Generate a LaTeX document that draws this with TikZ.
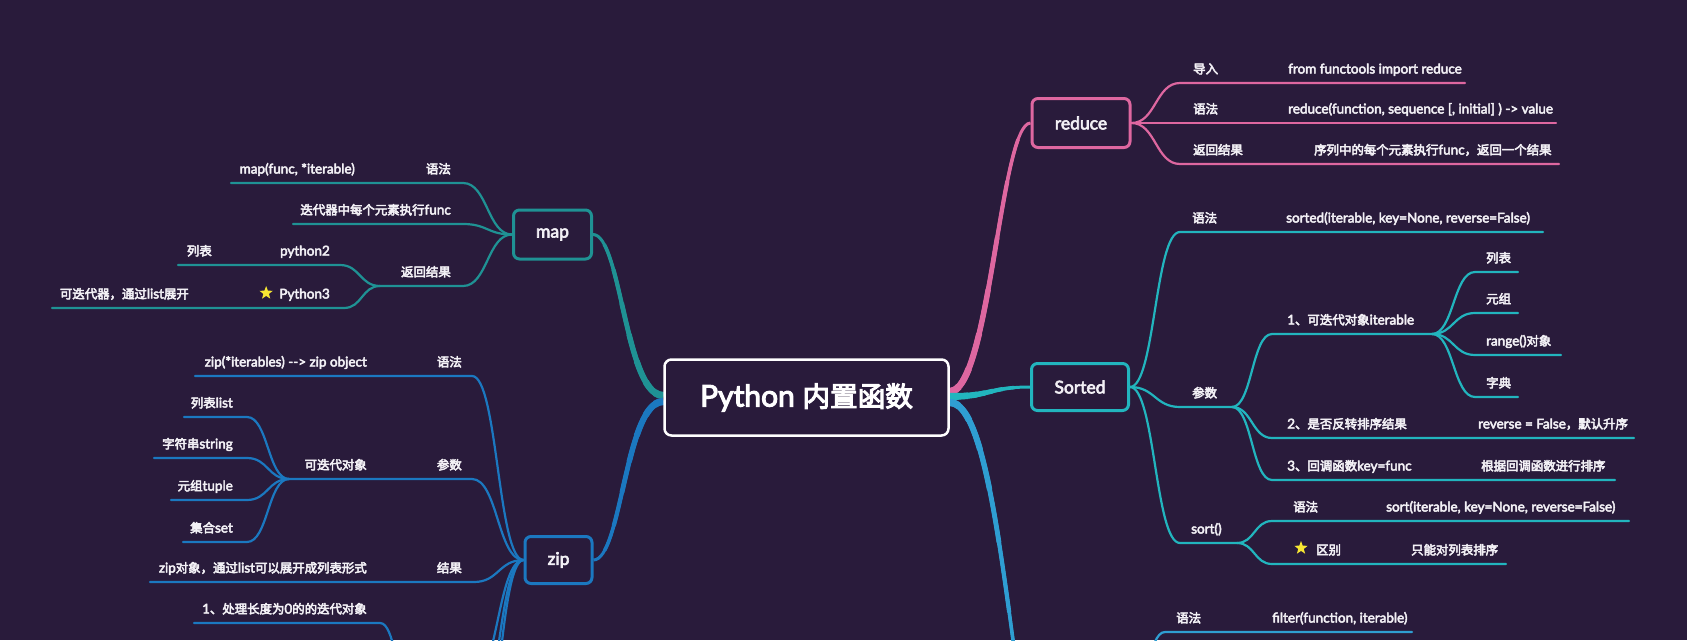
\documentclass[tikz,border=0pt]{standalone}
\usepackage{fontspec}
\setmainfont{Lato}[FakeBold=3.5]
\newfontfamily\cjk{Noto Sans CJK SC}[Scale=0.92,FakeBold=4]
\usetikzlibrary{shapes.geometric,calc,backgrounds}
\definecolor{bg}{HTML}{291B3B}
\definecolor{mapc}{HTML}{1F9294}
\definecolor{zipc}{HTML}{1B78C0}
\definecolor{redc}{HTML}{DE67A0}
\definecolor{sortc}{HTML}{22B5BE}
\definecolor{filc}{HTML}{2F9ED2}
\definecolor{txt}{HTML}{F2F0F5}
\definecolor{staryel}{HTML}{F7E733}
\newcommand\zh[1]{{\cjk #1}}
\newcommand\lsub[6]{%
  \coordinate (#1n) at (#5,#4);
  \coordinate (#1f) at (#6,#4);
  \draw[br,#2] let \p1=(#3), \p2=(#1n), \n1={0.5*(\x1-\x2)} in
    (\p1) .. controls +(-\n1,0) and +(\n1,0) .. (#1n) -- (#1f);}
\newcommand\rsub[6]{%
  \coordinate (#1n) at (#5,#4);
  \coordinate (#1f) at (#6,#4);
  \draw[br,#2] let \p1=(#3), \p2=(#1n), \n1={0.5*(\x2-\x1)} in
    (\p1) .. controls +(\n1,0) and +(-\n1,0) .. (#1n) -- (#1f);}
\newcommand\labL[4]{\node[lbl,anchor=base east] (#1) at (#2,#3-9.5) {#4};}
\newcommand\labR[4]{\node[lbl,anchor=base west] (#1) at (#2,#3-9.5) {#4};}
% tapered main branch: part [0,t] of the Bezier tp0..tp3
\newcommand\taperseg[3]{%
  \coordinate (ta) at ($(tp0)!#1!(tp1)$);
  \coordinate (tb) at ($(tp1)!#1!(tp2)$);
  \coordinate (tc) at ($(tp2)!#1!(tp3)$);
  \coordinate (tab) at ($(ta)!#1!(tb)$);
  \coordinate (tbc) at ($(tb)!#1!(tc)$);
  \coordinate (tabc) at ($(tab)!#1!(tbc)$);
  \draw[#3, line width=#2pt] (tp0) .. controls (ta) and (tab) .. (tabc);}
\newcommand\taper[6]{%
  \coordinate (tp0) at ($(#2)+(#3)$);
  \coordinate (tp3) at (#6);
  \coordinate (tp1) at ($(tp0)+(#4)$);
  \coordinate (tp2) at ($(tp3)+(#5)$);
  \foreach \tt/\ww in {1/3,0.85/3.6,0.7/4.2,0.55/4.8,0.42/5.4,0.3/6,0.18/6.6,0.08/7.2}
    {\taperseg{\tt}{\ww}{#1}}}
\begin{document}
\begin{tikzpicture}[x=1pt,y=-1pt,
  lbl/.style={inner sep=0pt, text=txt, font=\fontsize{13.5}{16}\selectfont},
  topic/.style={draw, line width=3pt, rounded corners=6pt, fill=bg, text=txt,
    font=\fontsize{17.5}{20}\selectfont, inner sep=0pt},
  br/.style={line width=2.2pt, line cap=round},
  yst/.style={star, star points=5, star point ratio=2.4, fill=staryel, inner sep=0pt, minimum size=14pt}
]
\useasboundingbox (0,0) rectangle (1687,640);
% ---- topic boxes
\node[draw=white, line width=2.5pt, rounded corners=7pt, fill=bg, text=white,
  minimum width=284pt, minimum height=76pt, inner sep=0pt,
  font=\fontsize{30}{34}\selectfont] (root) at (806.5,397.5) {Python \zh{内置函数}};
\node[topic, draw=mapc, minimum width=78pt, minimum height=49pt] (map) at (552.5,234.5) {map};
\node[topic, draw=zipc, minimum width=67pt, minimum height=47pt] (zip) at (558.5,560) {zip};
\node[topic, draw=redc, minimum width=98pt, minimum height=49pt] (reduce) at (1081,123) {reduce};
\node[topic, draw=sortc, minimum width=97pt, minimum height=47pt] (sorted) at (1080,387) {Sorted};
% ---- map labels
\labL{m1a}{451}{183}{\zh{语法}}
\labL{m1b}{355}{183}{map(func, *iterable)}
\labL{m2a}{451}{224}{\zh{迭代器中每个元素执行}func}
\labL{m3a}{451}{286}{\zh{返回结果}}
\labL{m31a}{330}{265}{python2}
\labL{m31b}{212}{265}{\zh{列表}}
\labL{m32a}{330}{308}{Python3}
\node[yst] (m32s) at ($(m32a.base west)+(-13,-5.5)$) {};
\labL{m32b}{189}{308}{\zh{可迭代器，通过}list\zh{展开}}
% ---- zip labels
\labL{z1a}{462}{376}{\zh{语法}}
\labL{z1b}{367}{376}{zip(*iterables) -\kern0pt-> zip object}
\labL{z2a}{462}{479}{\zh{参数}}
\labL{z2b}{367}{479}{\zh{可迭代对象}}
\labL{z21a}{233}{417}{\zh{列表}list}
\labL{z22a}{233}{458}{\zh{字符串}string}
\labL{z23a}{233}{500}{\zh{元组}tuple}
\labL{z24a}{233}{542}{\zh{集合}set}
\labL{z3a}{462}{582}{\zh{结果}}
\labL{z3b}{367}{582}{zip\zh{对象，通过}list\zh{可以展开成列表形式}}
\labL{z41a}{367}{623}{1\zh{、处理长度为}0\zh{的的迭代对象}}
% ---- reduce labels
\labR{r1a}{1193}{83}{\zh{导入}}
\labR{r1b}{1288}{83}{from functools import reduce}
\labR{r2a}{1193}{123}{\zh{语法}}
\labR{r2b}{1288}{123}{reduce(function, sequence [, initial] ) -> value}
\labR{r3a}{1193}{164}{\zh{返回结果}}
\labR{r3b}{1314}{164}{\zh{序列中的每个元素执行}func\zh{，返回一个结果}}
% ---- sorted labels
\labR{s1a}{1192}{232}{\zh{语法}}
\labR{s1b}{1286}{232}{sorted(iterable, key=None, reverse=False)}
\labR{spa}{1192}{407}{\zh{参数}}
\labR{s11a}{1287}{334}{1\zh{、可迭代对象}iterable}
\labR{s111a}{1486}{272}{\zh{列表}}
\labR{s112a}{1486}{313}{\zh{元组}}
\labR{s113a}{1486}{355}{range()\zh{对象}}
\labR{s114a}{1486}{397}{\zh{字典}}
\labR{s12a}{1287}{438}{2\zh{、是否反转排序结果}}
\labR{s12b}{1478}{438}{reverse = False\zh{，默认升序}}
\labR{s13a}{1287}{480}{3\zh{、回调函数}key=func}
\labR{s13b}{1481}{480}{\zh{根据回调函数进行排序}}
\labR{ssa}{1191}{543}{sort()}
\labR{ss1a}{1293}{521}{\zh{语法}}
\labR{ss1b}{1386}{521}{sort(iterable, key=None, reverse=False)}
\node[yst] (ss2s) at (1301,548) {};
\labR{ss2a}{1316}{564}{\zh{区别}}
\labR{ss2b}{1411}{564}{\zh{只能对列表排序}}
% ---- filter labels
\labR{f1a}{1176}{632}{\zh{语法}}
\labR{f1b}{1272}{632}{filter(function, iterable)}
% ---- connectors
\begin{pgfonlayer}{background}
\fill[bg] (0,0) rectangle (1687,640);
\clip (0,0) rectangle (1687,640);
\taper{mapc}{root.west}{0,-2}{-38,0}{28,0}{map.east}
\taper{zipc}{root.west}{0,4}{-38,0}{28,0}{zip.east}
\taper{redc}{root.east}{0,-6}{40,0}{-30,0}{reduce.west}
\taper{sortc}{root.east}{0,-1}{40,0}{-40,0}{sorted.west}
\coordinate (filend) at (1030,760);
\taper{filc}{root.east}{0,5}{40,0}{-25,-160}{filend}
% map
\lsub{m1}{mapc}{map.west}{183}{463}{231}
\lsub{m2}{mapc}{map.west}{224}{463}{293}
\lsub{m3}{mapc}{map.west}{286}{463}{380}
\lsub{m31}{mapc}{m3f}{265}{340}{178}
\lsub{m32}{mapc}{m3f}{308}{344}{52}
% zip
\lsub{z1}{zipc}{zip.west}{376}{472}{195}
\lsub{z2}{zipc}{zip.west}{479}{472}{289}
\lsub{z21}{zipc}{z2f}{417}{247}{184}
\lsub{z22}{zipc}{z2f}{458}{247}{154}
\lsub{z23}{zipc}{z2f}{500}{247}{171}
\lsub{z24}{zipc}{z2f}{542}{247}{183}
\lsub{z3}{zipc}{zip.west}{582}{474}{150}
\lsub{z4}{zipc}{zip.west}{680}{472}{410}
\lsub{z5}{zipc}{zip.west}{740}{472}{410}
\lsub{z6}{zipc}{zip.west}{800}{472}{410}
\lsub{z41}{zipc}{z4f}{623}{380}{194}
% reduce
\rsub{r1}{redc}{reduce.east}{83}{1180}{1465}
\rsub{r2}{redc}{reduce.east}{123}{1180}{1556}
\rsub{r3}{redc}{reduce.east}{164}{1180}{1559}
% sorted
\rsub{s1}{sortc}{sorted.east}{232}{1180}{1543}
\rsub{sp}{sortc}{sorted.east}{407}{1180}{1232}
\rsub{s11}{sortc}{spf}{334}{1272}{1432}
\rsub{s111}{sortc}{s11f}{272}{1475}{1518}
\rsub{s112}{sortc}{s11f}{313}{1475}{1518}
\rsub{s113}{sortc}{s11f}{355}{1475}{1561}
\rsub{s114}{sortc}{s11f}{397}{1475}{1518}
\rsub{s12}{sortc}{spf}{438}{1272}{1634}
\rsub{s13}{sortc}{spf}{480}{1272}{1615}
\rsub{ss}{sortc}{sorted.east}{543}{1180}{1237}
\rsub{ss1}{sortc}{ssf}{521}{1272}{1629}
\rsub{ss2}{sortc}{ssf}{564}{1272}{1506}
% filter
\coordinate (fj) at (1130,700);
\rsub{f1}{filc}{fj}{632}{1165}{1412}
\end{pgfonlayer}
\end{tikzpicture}
\end{document}
